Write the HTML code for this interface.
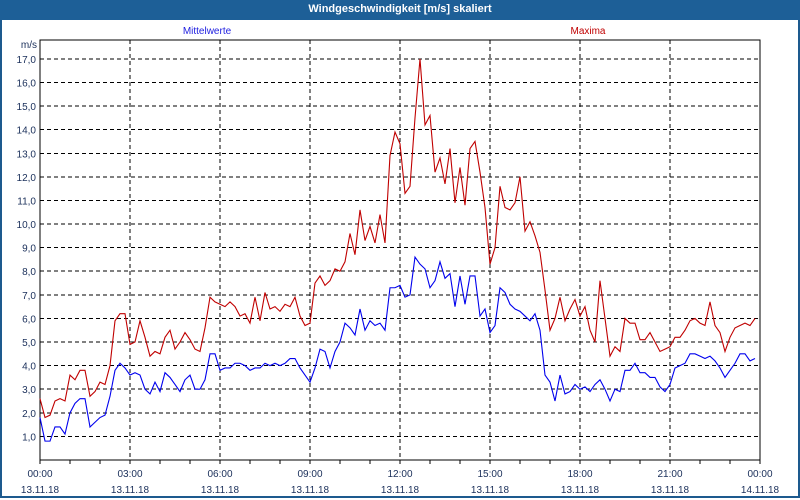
<!DOCTYPE html>
<html><head><meta charset="utf-8"><style>
body{margin:0;width:800px;height:500px;overflow:hidden;background:#fff;font-family:"Liberation Sans",sans-serif}
#win{position:absolute;left:0;top:0;width:796px;height:496px;border:2px solid #1d5a8e;border-top:none}
#title{position:absolute;left:0;top:0;width:800px;height:20px;background:#1d5f97;color:#fff;font-weight:bold;font-size:11px;text-align:center;line-height:19px}
</style></head><body>
<div id="win"></div>
<div id="title">Windgeschwindigkeit [m/s] skaliert</div>
<svg id="chart" width="800" height="500" style="position:absolute;left:0;top:0"></svg>
<script>
const hourLabels=["00:00","03:00","06:00","09:00","12:00","15:00","18:00","21:00","00:00"];
const dateLabels=["13.11.18","13.11.18","13.11.18","13.11.18","13.11.18","13.11.18","13.11.18","13.11.18","14.11.18"];
const yTicks=[1,2,3,4,5,6,7,8,9,10,11,12,13,14,15,16,17];
const maxima=[2.6,1.8,1.9,2.5,2.6,2.5,3.6,3.4,3.8,3.8,2.7,2.9,3.3,3.2,4.0,5.9,6.2,6.2,4.9,5.0,5.9,5.2,4.4,4.6,4.5,5.2,5.5,4.7,5.0,5.4,5.1,4.7,4.6,5.6,6.9,6.7,6.6,6.5,6.7,6.5,6.1,6.2,5.8,6.9,5.9,7.1,6.4,6.5,6.3,6.6,6.5,6.9,6.1,5.7,5.8,7.5,7.8,7.4,7.6,8.1,8.0,8.4,9.6,8.7,10.6,9.3,9.9,9.2,10.4,9.2,12.9,13.9,13.4,11.3,11.6,14.5,17.0,14.2,14.6,12.2,12.8,11.7,13.2,10.9,12.4,10.8,13.2,13.5,12.2,10.7,8.3,9.0,11.6,10.7,10.6,10.9,12.0,9.7,10.1,9.5,8.8,7.2,5.5,6.0,6.9,5.9,6.4,6.8,6.1,6.5,5.5,5.0,7.6,6.0,4.4,4.8,4.6,6.0,5.8,5.8,5.1,5.1,5.4,5.0,4.6,4.7,4.8,5.2,5.2,5.5,5.9,6.0,5.8,5.7,6.7,5.7,5.4,4.6,5.2,5.6,5.7,5.8,5.7,6.0];
const mittel=[1.8,0.8,0.8,1.4,1.4,1.1,2.0,2.4,2.6,2.6,1.4,1.6,1.8,1.9,2.7,3.8,4.1,3.9,3.6,3.7,3.6,3.0,2.8,3.3,2.9,3.7,3.5,3.2,2.9,3.4,3.6,3.0,3.0,3.4,4.5,4.5,3.8,3.9,3.9,4.1,4.1,4.0,3.8,3.9,3.9,4.1,4.0,4.1,4.0,4.1,4.3,4.3,3.9,3.6,3.3,3.9,4.7,4.6,3.9,4.6,5.0,5.8,5.6,5.3,6.4,5.5,5.9,5.7,5.8,5.5,7.3,7.3,7.4,6.9,7.0,8.6,8.3,8.1,7.3,7.6,8.4,7.7,7.9,6.5,7.8,6.6,7.8,7.8,6.1,6.4,5.4,5.7,7.3,7.1,6.6,6.4,6.3,6.1,5.9,6.2,5.5,3.6,3.3,2.5,3.6,2.8,2.9,3.2,3.0,3.1,2.9,3.2,3.4,3.0,2.5,3.0,2.9,3.8,3.8,4.1,3.7,3.7,3.5,3.5,3.1,2.9,3.2,3.9,4.0,4.1,4.5,4.5,4.4,4.3,4.4,4.2,3.9,3.5,3.8,4.1,4.5,4.5,4.2,4.3];

const L=40,R=760,T=40,B=460;
const xMin=i=>L+i*(R-L)/144;         // i = 10-minute index
const yV=v=>B-v*(B-T)/17.8;
const svg=document.getElementById('chart');
const NS='http://www.w3.org/2000/svg';
function mk(tag,attrs,parent){const e=document.createElementNS(NS,tag);for(const k in attrs)e.setAttribute(k,attrs[k]);(parent||svg).appendChild(e);return e;}

// grid
yTicks.forEach(v=>{
  const l=mk('line',{x1:L,x2:R,y1:yV(v),y2:yV(v),stroke:'#000','stroke-dasharray':'4,3','stroke-width':1,'shape-rendering':'crispEdges'});
  
  
  const t=mk('text',{x:36,y:yV(v)+4,'text-anchor':'end','font-size':10,fill:'#1a2f5a'});
  t.textContent=v.toFixed(1).replace('.',',');
  
  
});
hourLabels.forEach((h,i)=>{
  const x=xMin(i*18);
  if(i>0&&i<8){
    const l=mk('line',{x1:x,x2:x,y1:T,y2:B,stroke:'#000','stroke-dasharray':'4,3','stroke-width':1,'shape-rendering':'crispEdges'});
    
    
  }
  const t=mk('text',{x:x,y:477,'text-anchor':'middle','font-size':10,fill:'#1a2f5a'});
  t.textContent=h;
  
  
  const d=mk('text',{x:x,y:493,'text-anchor':'middle','font-size':10,fill:'#1a2f5a'});
  d.textContent=dateLabels[i];
  
  
});
for(let h=0;h<=24;h++){
  const x=xMin(h*6);
  const l=mk('line',{x1:x,x2:x,y1:B,y2:B+4,stroke:'#000','shape-rendering':'crispEdges'});
  
  
}
const box=mk('rect',{x:L,y:T,width:R-L,height:B-T,fill:'none',stroke:'#000','stroke-width':1,'shape-rendering':'crispEdges'});



function series(arr,color,name){
  const p=mk('polyline',{points:arr.map((v,i)=>xMin(i)+','+yV(v)).join(' '),fill:'none',stroke:color,'stroke-width':1.1});
  
  
}
series(maxima,'#c00000','maxima-line');
series(mittel,'#0000ee','mittelwerte-line');

const u=mk('text',{x:37,y:48,'text-anchor':'end','font-size':10,fill:'#1a2f5a'});u.textContent='m/s';


const lm=mk('text',{x:207,y:34,'text-anchor':'middle','font-size':10,fill:'#2020e0'});lm.textContent='Mittelwerte';


const lx=mk('text',{x:588,y:34,'text-anchor':'middle','font-size':10,fill:'#c00000'});lx.textContent='Maxima';


</script>
</body></html>
